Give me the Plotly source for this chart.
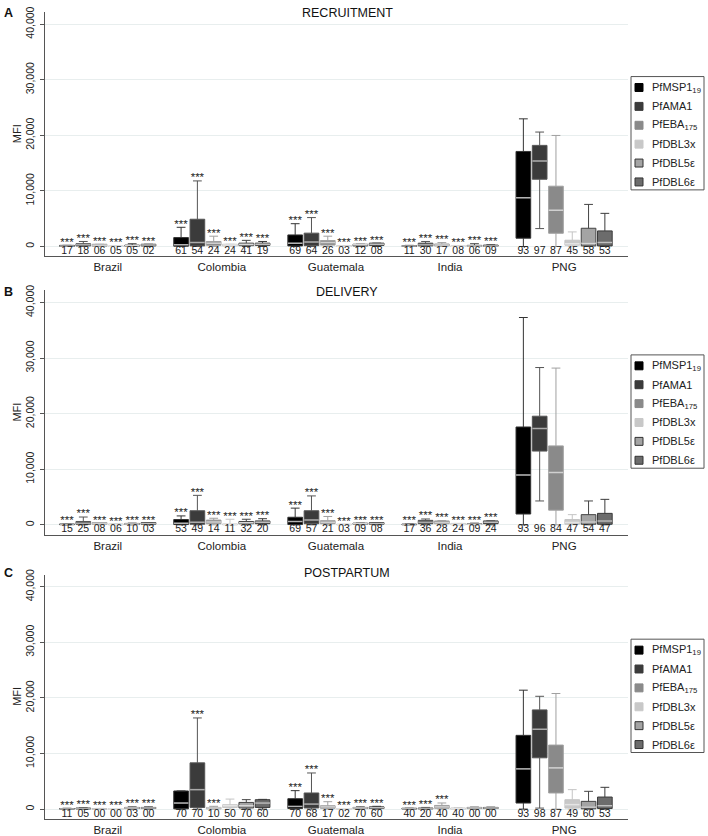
import plotly.graph_objects as go

W, H = 708, 836

countries = ["Brazil", "Colombia", "Guatemala", "India", "PNG"]
antigens = ["PfMSP1<sub>19</sub>", "PfAMA1", "PfEBA<sub>175</sub>", "PfDBL3x", "PfDBL5ε", "PfDBL6ε"]
panel_titles = ["RECRUITMENT", "DELIVERY", "POSTPARTUM"]
panel_letters = ["A", "B", "C"]
y_ticks = [0, 10000, 20000, 30000, 40000]

# ---- Panel A: recruitment (rows = antigen, cols = country) ----
rec_q1 = [[30, 50, 100, 20, 1490], [100, 100, 150, 100, 12100], [50, 200, 250, 100, 2380],
          [0, 100, 0, 0, 230], [50, 150, 100, 30, 100], [100, 200, 200, 50, 100]]
rec_med = [[80, 300, 600, 80, 8770], [300, 700, 800, 300, 15390], [200, 600, 700, 250, 6500],
           [50, 250, 60, 50, 500], [150, 350, 300, 100, 600], [250, 400, 400, 100, 700]]
rec_q3 = [[200, 1600, 2080, 150, 17100], [500, 4900, 2400, 600, 18190], [400, 900, 1070, 450, 10850],
          [100, 400, 150, 100, 1130], [250, 600, 400, 200, 3280], [400, 600, 600, 250, 2800]]
rec_lo = [[0, 0, 0, 0, 0], [0, 0, 0, 0, 3220], [0, 0, 0, 0, 0],
          [0, 0, 0, 0, 0], [0, 0, 0, 0, 0], [0, 0, 0, 0, 0]]
rec_hi = [[200, 3450, 4100, 200, 22970], [900, 11800, 5200, 900, 20590], [400, 1850, 1850, 700, 19980],
          [100, 350, 100, 150, 2620], [500, 1100, 250, 500, 7570], [400, 900, 600, 300, 5960]]
rec_stars = [[1, 1, 1, 1, 0]] * 6
rec_pct = [["17", "18", "06", "05", "05", "02"], ["61", "54", "24", "24", "41", "19"],
           ["69", "64", "26", "03", "12", "08"], ["11", "30", "17", "08", "06", "09"],
           ["93", "97", "87", "45", "58", "53"]]

# ---- Panel B: delivery ----
del_q1 = [[20, 50, 50, 20, 1940], [100, 100, 200, 200, 13270], [100, 200, 200, 200, 2640],
          [0, 0, 0, 0, 100], [50, 200, 100, 50, 100], [100, 200, 100, 200, 100]]
del_med = [[80, 300, 600, 60, 8980], [300, 470, 880, 450, 17320], [250, 500, 450, 400, 9400],
           [60, 80, 40, 120, 400], [150, 350, 200, 100, 500], [250, 450, 250, 450, 700]]
del_q3 = [[150, 950, 1360, 120, 17600], [600, 2530, 2530, 800, 19540], [400, 850, 750, 700, 14200],
          [150, 150, 100, 250, 950], [250, 600, 300, 200, 1830], [400, 700, 400, 700, 2060]]
del_lo = [[0, 0, 0, 0, 0], [0, 0, 0, 0, 4290], [0, 0, 0, 0, 0],
          [0, 0, 0, 0, 0], [0, 0, 0, 0, 0], [0, 0, 0, 0, 0]]
del_hi = [[150, 1600, 3000, 150, 37300], [1400, 5300, 5200, 1050, 28300], [300, 1180, 1500, 770, 28200],
          [100, 1000, 100, 250, 1830], [300, 1000, 250, 300, 4290], [200, 1100, 250, 700, 4580]]
del_stars = [[1, 1, 1, 1, 0]] * 6
del_pct = [["15", "25", "08", "06", "10", "03"], ["53", "49", "14", "11", "32", "20"],
           ["69", "57", "21", "03", "09", "08"], ["17", "36", "28", "24", "09", "24"],
           ["93", "96", "84", "47", "54", "47"]]

# ---- Panel C: postpartum ----
pp_q1 = [[0, 50, 100, 20, 1090], [20, 300, 200, 30, 9230], [0, 50, 150, 150, 2900],
         [0, 300, 0, 0, 180], [100, 200, 100, 100, 50], [100, 300, 100, 100, 100]]
pp_med = [[40, 1090, 480, 60, 7240], [80, 3500, 900, 100, 14350], [30, 200, 400, 400, 7420],
          [30, 600, 40, 100, 800], [200, 600, 200, 200, 360], [200, 1090, 250, 200, 600]]
pp_q3 = [[100, 3260, 1870, 150, 13270], [200, 8320, 2900, 200, 17850], [80, 300, 600, 660, 11520],
         [60, 780, 80, 200, 1690], [300, 1200, 300, 300, 1390], [300, 1690, 400, 300, 2170]]
pp_lo = [[0, 0, 0, 0, 0], [0, 0, 0, 0, 180], [0, 0, 0, 0, 0],
         [0, 0, 0, 0, 0], [0, 0, 0, 0, 0], [0, 0, 0, 0, 0]]
pp_hi = [[150, 3260, 3320, 150, 21400], [250, 16400, 6500, 300, 20300], [120, 500, 1330, 1100, 20800],
         [100, 1800, 100, 250, 3500], [400, 1700, 400, 350, 3200], [400, 1750, 500, 350, 3920]]
pp_stars = [[1, 0, 1, 1, 0], [1, 1, 1, 1, 0], [1, 1, 1, 1, 0],
            [1, 0, 1, 0, 0], [1, 0, 1, 0, 0], [1, 0, 1, 0, 0]]
pp_pct = [["11", "05", "00", "00", "03", "00"], ["70", "70", "10", "50", "70", "60"],
          ["70", "68", "17", "02", "70", "60"], ["40", "20", "40", "40", "00", "00"],
          ["93", "98", "87", "49", "60", "53"]]

panels = [
    (rec_q1, rec_med, rec_q3, rec_lo, rec_hi, rec_stars, rec_pct),
    (del_q1, del_med, del_q3, del_lo, del_hi, del_stars, del_pct),
    (pp_q1, pp_med, pp_q3, pp_lo, pp_hi, pp_stars, pp_pct),
]

# ---- styles ----
FONT = "Liberation Sans, Arial, Helvetica, sans-serif"
box_fill = ["#000000", "#3b3b3b", "#8a8a8a", "#c8c8c8", "#a4a4a4", "#6c6c6c"]
box_line = ["#333333", "#555555", "#a0a0a0", "#c4c4c4", "#444444", "#3a3a3a"]
median_col = ["#b4b4b4", "#ababab", "#d0d0d0", "#e4e4e4", "#d8d8d8", "#c0c0c0"]
legend_edge = [None, None, None, None, "#333333", "#333333"]
panel_off = [0, 280, 566]
title_y = [8, 289, 571]
GROUP = 7
BOXW = 0.9


def fx(px):
    return px / W


def fy(py):
    return 1 - py / H


fig = go.Figure()
annotations = []
shapes = []
layout_axes = {}

for k, (q1, med, q3, lo, hi, stars, pct) in enumerate(panels):
    off = panel_off[k]
    sfx = "" if k == 0 else str(k + 1)
    xa, ya = "x" + sfx, "y" + sfx
    all_x, all_txt = [], []
    star_x, star_y = [], []
    for a in range(len(antigens)):
        pos = [GROUP * c + a for c in range(len(countries))]
        fig.add_trace(go.Box(
            x=pos, q1=q1[a], median=med[a], q3=q3[a],
            lowerfence=lo[a], upperfence=hi[a],
            width=BOXW, whiskerwidth=0.6, boxpoints=False,
            fillcolor=box_fill[a], line=dict(color=box_line[a], width=1),
            xaxis=xa, yaxis=ya, showlegend=False, hoverinfo="skip"))
        mx, my = [], []
        for c, p in enumerate(pos):
            mx += [p - BOXW / 2, p + BOXW / 2, None]
            my += [med[a][c], med[a][c], None]
            all_x.append(p)
            all_txt.append(pct[c][a])
            if stars[a][c]:
                star_x.append(p)
                star_y.append(hi[a][c] + 450)
        fig.add_trace(go.Scatter(
            x=mx, y=my, mode="lines", line=dict(color=median_col[a], width=1.5),
            xaxis=xa, yaxis=ya, showlegend=False, hoverinfo="skip"))
    fig.add_trace(go.Scatter(
        x=all_x, y=[-900] * len(all_x), text=all_txt, mode="text",
        textposition="middle center", textfont=dict(size=10.5, color="#222222", family=FONT),
        xaxis=xa, yaxis=ya, showlegend=False, hoverinfo="skip", cliponaxis=False))
    fig.add_trace(go.Scatter(
        x=star_x, y=star_y, text=["***"] * len(star_x), mode="text",
        textposition="middle center", textfont=dict(size=11.5, color="#222222", family=FONT),
        xaxis=xa, yaxis=ya, showlegend=False, hoverinfo="skip", cliponaxis=False))

    top, bottom = 7 + off, 253 + off
    layout_axes["xaxis" + sfx] = dict(
        domain=[fx(45), fx(628)], range=[-1.35, 34.42], anchor=ya,
        tickvals=[GROUP * c + 2.5 for c in range(len(countries))], ticktext=countries,
        ticks="", showgrid=False, zeroline=False, showline=True, linecolor="#555555",
        linewidth=1, tickfont=dict(size=11.5, color="#222222", family=FONT))
    layout_axes["yaxis" + sfx] = dict(
        domain=[fy(bottom), fy(top)], range=[-1800, 42200], anchor=xa,
        tickvals=y_ticks, tickformat=",", tickangle=-90, ticks="outside", ticklen=4,
        tickcolor="#555555", showgrid=True, gridcolor="#e8eeee", gridwidth=1,
        zeroline=False, showline=True, linecolor="#555555", linewidth=1,
        ticklabelstandoff=2,
        tickfont=dict(size=10.5, color="#222222", family=FONT))

    # titles, letters, y-title
    annotations.append(dict(x=fx(347), y=fy(title_y[k]), xref="paper", yref="paper",
                            text=panel_titles[k], showarrow=False, xanchor="center", yanchor="middle",
                            font=dict(size=12.5, color="#111111", family=FONT)))
    annotations.append(dict(x=fx(8), y=fy(title_y[k]), xref="paper", yref="paper",
                            text="<b>" + panel_letters[k] + "</b>", showarrow=False,
                            xanchor="center", yanchor="middle",
                            font=dict(size=12.5, color="#111111", family=FONT)))
    annotations.append(dict(x=fx(17), y=fy((top + bottom) / 2), xref="paper", yref="paper",
                            text="MFI", textangle=-90, showarrow=False,
                            xanchor="center", yanchor="middle",
                            font=dict(size=11, color="#222222", family=FONT)))

    # manual legend
    shapes.append(dict(type="rect", xref="paper", yref="paper",
                       x0=fx(631), x1=fx(704), y0=fy(186 + off), y1=fy(72 + off),
                       line=dict(color="#555555", width=1), fillcolor="white"))
    for a in range(len(antigens)):
        ry = 83 + 19 * a + off
        shapes.append(dict(type="rect", xref="paper", yref="paper",
                           x0=fx(635), x1=fx(643), y0=fy(ry + 4), y1=fy(ry - 4),
                           fillcolor=box_fill[a],
                           line=dict(color=legend_edge[a] or box_fill[a], width=1)))
        annotations.append(dict(x=fx(650), y=fy(ry), xref="paper", yref="paper",
                                text=antigens[a], showarrow=False, xanchor="left", yanchor="middle",
                                font=dict(size=11, color="#222222", family=FONT)))

fig.update_layout(
    width=W, height=H, margin=dict(l=0, r=0, t=0, b=0),
    paper_bgcolor="white", plot_bgcolor="white",
    boxmode="overlay", showlegend=False,
    annotations=annotations, shapes=shapes,
    font=dict(family=FONT), **layout_axes)

fig.write_html(
    "out.html", config={"displayModeBar": False},
    post_script=("document.body.style.margin='0px';document.body.style.padding='0px';"
                 "var gd=document.getElementById('{plot_id}');"
                 "gd.style.position='fixed';gd.style.top='0px';gd.style.left='0px';"))
